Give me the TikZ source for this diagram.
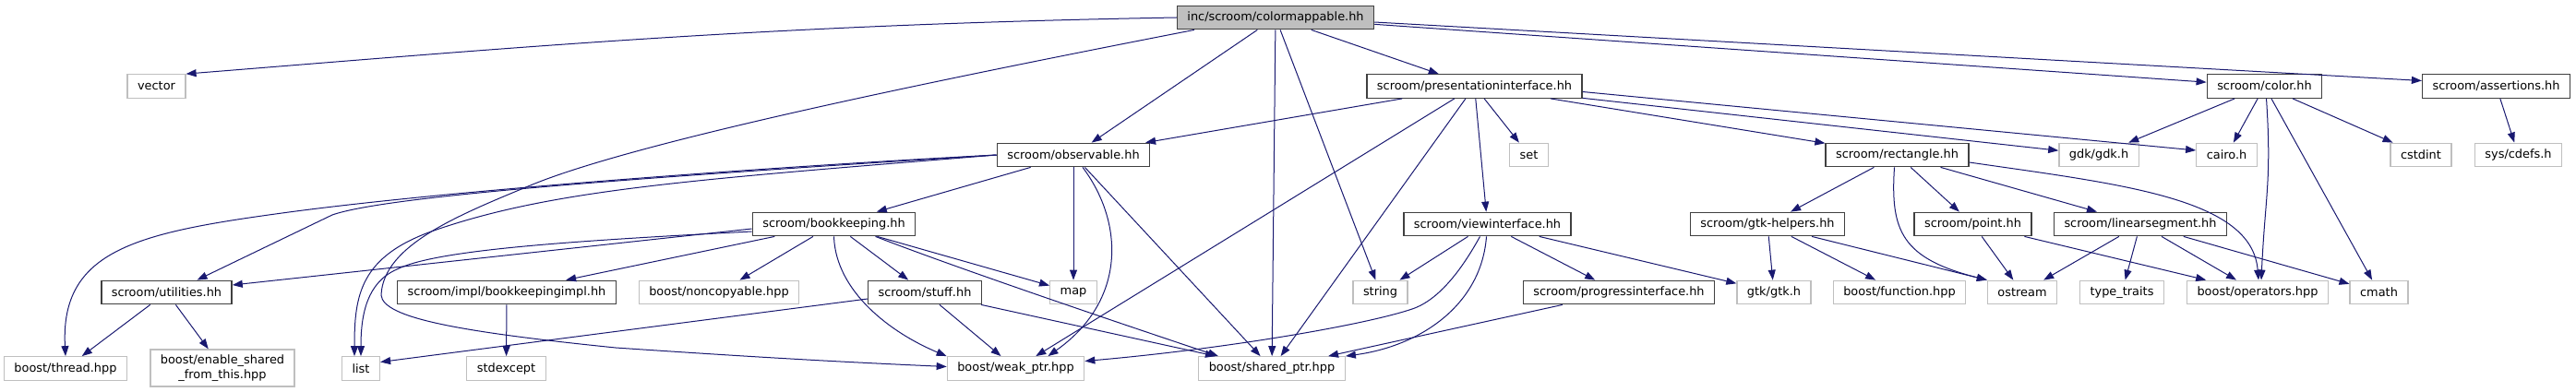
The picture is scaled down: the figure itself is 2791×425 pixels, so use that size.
\documentclass[tikz,border=0pt]{standalone}
\usepackage{fontspec}
\setmainfont{DejaVu Sans}
\usetikzlibrary{arrows.meta}
\definecolor{edgeblue}{HTML}{191970}
\definecolor{boxgrey}{HTML}{BFBFBF}
\definecolor{boxdark}{HTML}{404040}

\begin{document}
\begin{tikzpicture}[x=1pt, y=1pt,
  file/.style={draw=boxdark, line width=1.3pt, minimum height=25.5pt, inner xsep=11pt, inner ysep=2pt, font=\fontsize{12.9}{16}\selectfont},
  sys/.style={file, draw=boxgrey},
  rootfile/.style={file, fill=boxgrey},
  dep/.style={draw=edgeblue, line width=1pt, -{Triangle[length=11pt, width=8pt]}}]
\useasboundingbox (0,0) rectangle (2791,-425);
% row 0 and 1
\node[rootfile] (main) at (1382,-19) {inc/scroom/colormappable.hh};
\node[sys] (vector) at (169.5,-93.5) {vector}; \node[file] (pres) at (1597.5,-93.5) {scroom/presentationinterface.hh};
\node[file] (color) at (2453.5,-93.5) {scroom/color.hh}; \node[file] (assert) at (2704.5,-93.5) {scroom/assertions.hh};
% row 2
\node[file] (observable) at (1163,-168) {scroom/observable.hh}; \node[sys] (set) at (1656.5,-168) {set};
\node[file] (rect) at (2055.5,-168) {scroom/rectangle.hh}; \node[sys] (gdk) at (2274,-168) {gdk/gdk.h};
\node[sys] (cairo) at (2412.5,-168) {cairo.h}; \node[sys] (cstdint) at (2623,-168) {cstdint};
\node[sys] (cdefs) at (2728.5,-168) {sys/cdefs.h};
% row 3
\node[file] (bookkeeping) at (903.5,-243) {scroom/bookkeeping.hh}; \node[file] (viewif) at (1611.5,-243) {scroom/viewinterface.hh};
\node[file] (gtkhelp) at (1915,-243) {scroom/gtk-helpers.hh}; \node[file] (point) at (2137.5,-243) {scroom/point.hh};
\node[file] (linseg) at (2319,-243) {scroom/linearsegment.hh};
% row 4
\node[file] (utilities) at (180.5,-317) {scroom/utilities.hh}; \node[file] (bkimpl) at (549,-317) {scroom/impl/bookkeepingimpl.hh};
\node[sys] (noncopy) at (779,-317) {boost/noncopyable.hpp}; \node[file] (stuff) at (1002,-317) {scroom/stuff.hh};
\node[sys] (map) at (1163,-317) {map}; \node[sys] (string) at (1495.5,-317) {string};
\node[file] (progress) at (1754,-317) {scroom/progressinterface.hh}; \node[sys] (gtkh) at (1922,-317) {gtk/gtk.h};
\node[sys] (function) at (2058,-317) {boost/function.hpp}; \node[sys] (ostream) at (2191,-317) {ostream};
\node[sys] (typetraits) at (2299,-317) {type\_traits}; \node[sys] (operators) at (2446,-317) {boost/operators.hpp};
\node[sys] (cmath) at (2577.5,-317) {cmath};
% row 5
\node[sys] (thread) at (71,-399.5) {boost/thread.hpp};
\node[sys, align=center, minimum height=40pt] (enableshared) at (241,-399) {boost/enable\_shared\\\_from\_this.hpp};
\node[sys] (list) at (391,-399.5) {list}; \node[sys] (stdexcept) at (548.5,-399.5) {stdexcept};
\node[sys] (weakptr) at (1100.5,-399.5) {boost/weak\_ptr.hpp}; \node[sys] (sharedptr) at (1378,-399.5) {boost/shared\_ptr.hpp};

\draw[dep] (main.west) .. controls (825,-27) and (553,-52) .. (vector.north east);
\draw[dep] (main) -- (observable); \draw[dep] (main) -- (pres); \draw[dep] (main) -- (color);
\draw[dep] ([yshift=-5pt]main.east) -- ([yshift=6pt]assert.west);
\draw[dep] (main) -- (string); \draw[dep] (main) -- (sharedptr);
\draw[dep] ([xshift=-88pt]main.south) .. controls (1050,-80) and (700,-150) .. (577,-200) .. controls (500,-232) and (415,-265) .. (413,-320)
  .. controls (415,-345) and (500,-360) .. (667,-377) .. controls (800,-386) and (900,-392) .. ([yshift=2pt]weakptr.west);

\draw[dep] (observable) -- (bookkeeping); \draw[dep] (observable) -- (map); \draw[dep] (observable) -- (sharedptr);
\draw[dep] ([xshift=10pt]observable.south) .. controls +(45,-60) and +(85,60) .. ([xshift=35pt]weakptr.north);
\draw[dep] (observable.west) .. controls (850,-180) and (500,-205) .. (313,-230) .. controls (150,-252) and (65,-270) .. (thread.north);
\draw[dep] (observable.west) .. controls (700,-192) and (420,-212) .. (360,-233) -- ([xshift=33pt]utilities.north);
\draw[dep] (observable.west) .. controls (750,-195) and (600,-205) .. (470,-250) .. controls (390,-278) and (384,-320) .. ([xshift=-7pt]list.north);

\draw[dep] ([yshift=-5pt]bookkeeping.west) -- ([yshift=8pt]utilities.east);
\draw[dep] ([yshift=-8pt]bookkeeping.west) .. controls (600,-262) and (470,-272) .. (430,-292) .. controls (398,-306) and (391,-340) .. (list.north);
\draw[dep] (bookkeeping) -- (bkimpl); \draw[dep] (bookkeeping) -- (noncopy);
\draw[dep] (bookkeeping) -- (stuff); \draw[dep] (bookkeeping) -- (map);
\draw[dep] (bookkeeping.south) .. controls +(2,-60) and +(-60,25) .. (weakptr.north west);
\draw[dep] ([xshift=45pt]bookkeeping.south) .. controls +(90,-35) and +(-90,30) .. ([xshift=-58pt]sharedptr.north);

\draw[dep] ([yshift=-7pt]stuff.west) -- ([yshift=7pt]list.east);
\draw[dep] (stuff) -- (weakptr); \draw[dep] (stuff) -- (sharedptr);
\draw[dep] (utilities) -- (thread); \draw[dep] (utilities) -- (enableshared);
\draw[dep] (bkimpl) -- (stdexcept);

\draw[dep] (pres) -- (observable); \draw[dep] (pres) -- (weakptr); \draw[dep] (pres) -- (sharedptr);
\draw[dep] (pres) -- (viewif); \draw[dep] (pres) -- (set); \draw[dep] (pres) -- (rect); \draw[dep] (pres) -- (gdk);
\draw[dep] ([yshift=-6pt]pres.east) -- ([yshift=5pt]cairo.west);

\draw[dep] (viewif) -- (string);
\draw[dep] ([xshift=-8pt]viewif.south) .. controls (1585,-290) and (1560,-325) .. (1530,-335) .. controls (1480,-352) and (1330,-378) .. ([yshift=8pt]weakptr.east);
\draw[dep] ([xshift=-1pt]viewif.south) .. controls (1605,-330) and (1540,-375) .. (sharedptr.north east);
\draw[dep] (viewif) -- (progress); \draw[dep] (viewif) -- (gtkh);
\draw[dep] (progress) -- (sharedptr);

\draw[dep] (rect) -- (gtkhelp); \draw[dep] (rect) -- (point); \draw[dep] (rect) -- (linseg);
\draw[dep] ([xshift=-3pt]rect.south) .. controls (2048,-250) and (2060,-280) .. (ostream.north west);
\draw[dep] ([yshift=-8pt]rect.east) .. controls (2300,-200) and (2440,-215) .. ([xshift=1pt]operators.north);

\draw[dep] (gtkhelp) -- (gtkh); \draw[dep] (gtkhelp) -- (function);
\draw[dep] ([xshift=48pt]gtkhelp.south) -- (ostream.north west);
\draw[dep] (point) -- (ostream); \draw[dep] (point) -- (operators);
\draw[dep] (linseg) -- (ostream); \draw[dep] (linseg) -- (typetraits);
\draw[dep] (linseg) -- (operators); \draw[dep] (linseg) -- (cmath);

\draw[dep] (color) -- (gdk); \draw[dep] (color) -- (cairo);
\draw[dep] ([xshift=2pt]color.south) .. controls +(6,-90) and +(4,90) .. ([xshift=4pt]operators.north);
\draw[dep] (color) -- (cmath); \draw[dep] (color) -- (cstdint);
\draw[dep] (assert) -- (cdefs);
\end{tikzpicture}
\end{document}
